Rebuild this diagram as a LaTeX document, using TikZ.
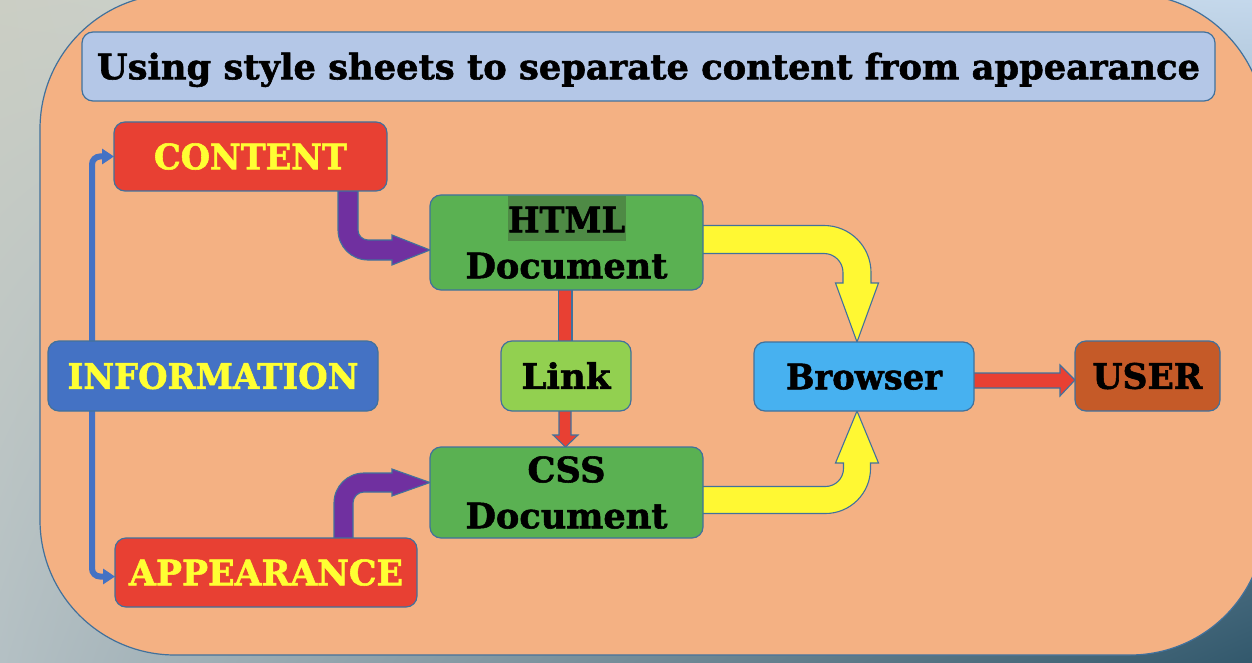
\documentclass[tikz,border=0pt]{standalone}
\usepackage{fontspec}
\setmainfont{DejaVu Serif}[BoldFeatures={FakeBold=1.6}]
\usepackage{graphicx}
\usetikzlibrary{calc,arrows.meta,shadings}
\definecolor{bordc}{HTML}{41719C}
\definecolor{orangebg}{HTML}{F4B183}
\definecolor{titlefill}{HTML}{B4C7E7}
\definecolor{redc}{HTML}{E84033}
\definecolor{yellowtxt}{HTML}{FFFF33}
\definecolor{greenc}{HTML}{5AB152}
\definecolor{hlgreen}{HTML}{4E8A45}
\definecolor{linkc}{HTML}{92D050}
\definecolor{infoc}{HTML}{4472C4}
\definecolor{browserc}{HTML}{47B1F0}
\definecolor{userc}{HTML}{C55A28}
\definecolor{purplec}{HTML}{7030A0}
\definecolor{yellowarr}{HTML}{FFF833}
\definecolor{bgUL}{RGB}{203,206,196}
\definecolor{bgUR}{RGB}{196,216,236}
\definecolor{bgLL}{RGB}{180,192,196}
\definecolor{bgLR}{RGB}{50,88,108}
\pgfdeclarelayer{bgl}
\pgfdeclarelayer{arrl}
\pgfsetlayers{bgl,arrl,main}
\newcommand{\twolines}[3]{\vbox{\baselineskip=#3\lineskiplimit=-100pt\halign{\hfil##\hfil\cr #1\cr #2\cr}}}
\begin{document}
\begin{tikzpicture}[x=1pt,y=-1pt,
  box/.style={draw=bordc, line width=1.2pt, rounded corners=11pt, inner sep=0pt, outer sep=0pt,
    font=\fontsize{35}{46}\selectfont\bfseries, text height=25.5pt, text depth=0pt},
  twobox/.style={box, text height=71.5pt, text depth=-3.5pt},
  yarrow/.style={fill=yellowarr, draw=bordc, line width=1.1pt, line join=miter},
  parrow/.style={fill=purplec, draw=bordc, line width=1.1pt, line join=miter},
  rarrow/.style={fill=redc, draw=bordc, line width=1.1pt, line join=miter},
  bluecon/.style={draw=infoc, line width=6pt, rounded corners=8pt, -{Triangle[length=12pt,width=15pt]}}]
\useasboundingbox (0,0) rectangle (1252,663);
\begin{pgfonlayer}{bgl}
\clip (0,0) rectangle (1252,663);
\shade[upper left=bgUL, upper right=bgUR, lower left=bgLL, lower right=bgLR] (0,0) rectangle (1252,663);
\draw[draw=bordc, line width=1.2pt, fill=orangebg, rounded corners=135pt] (40,-6) rectangle (1265,655);
\end{pgfonlayer}

\node[box, fill=titlefill, minimum width=1133pt, minimum height=69pt] (title) at (648.5,66.5)
  {\resizebox{1103pt}{\height}{Using style sheets to separate content from appearance}};
\node[box, fill=redc, text=yellowtxt, minimum width=273pt, minimum height=69pt] (content) at (250.5,156.5)
  {\resizebox{193pt}{\height}{CONTENT}};
\node[twobox, fill=greenc, minimum width=273pt, minimum height=95pt] (html) at (566.5,242.5)
  {\twolines{{\setlength{\fboxsep}{0pt}\colorbox{hlgreen}{\rule[-9pt]{0pt}{45pt}\hspace{0.5pt}\resizebox{117pt}{\height}{HTML}\hspace{0.5pt}}}}{\resizebox{202pt}{\height}{Document}}{46pt}};
\node[box, fill=linkc, minimum width=130pt, minimum height=70pt] (link) at (566,376)
  {\resizebox{89pt}{\height}{Link}};
\node[twobox, fill=greenc, minimum width=273pt, minimum height=91pt] (css) at (566.5,492.5)
  {\twolines{\resizebox{78pt}{\height}{CSS}}{\resizebox{202pt}{\height}{Document}}{46pt}};
\node[box, fill=infoc, text=yellowtxt, minimum width=330pt, minimum height=70pt] (info) at (213,376)
  {\resizebox{291pt}{\height}{INFORMATION}};
\node[box, fill=redc, text=yellowtxt, minimum width=302pt, minimum height=69pt] (appear) at (266,572.5)
  {\resizebox{274pt}{\height}{APPEARANCE}};
\node[box, fill=browserc, minimum width=220pt, minimum height=69pt] (browser) at (864,376.5)
  {\resizebox{156pt}{\height}{Browser}};
\node[box, fill=userc, minimum width=145pt, minimum height=70pt] (user) at (1147.5,376)
  {\resizebox{110pt}{\height}{USER}};

\coordinate (pP) at (browser.north |- html.east);
\coordinate (pQ) at (browser.south |- css.east);
\coordinate (pS) at ($(content.south east)+(-39,0)$);
\coordinate (pK) at (pS |- html.west);
\coordinate (pS2) at ($(appear.north east)+(-73.5,0)$);
\coordinate (pK2) at (pS2 |- css.west);

\begin{pgfonlayer}{arrl}
% HTML -> Browser
\draw[yarrow] ($(html.east)+(-3,-17)$) -- ($(pP)+(-40,-17)$) .. controls +(26,0) and +(0,-26) .. ($(pP)+(7,30)$)
  -- ($(pP)+(7,40.5)$) -- ($(pP)+(14.5,40.5)$) -- ($(browser.north)+(-7,0)$) -- ($(pP)+(-28.5,40.5)$)
  -- ($(pP)+(-21,40.5)$) -- ($(pP)+(-21,30)$) .. controls +(0,-10.5) and +(10.5,0) .. ($(pP)+(-40,11)$)
  -- ($(html.east)+(-3,11)$) -- cycle;
% CSS -> Browser
\draw[yarrow] ($(css.east)+(-3,21)$) -- ($(pQ)+(-38.5,21)$) .. controls +(24.8,0) and +(0,24.8) .. ($(pQ)+(6.5,-24)$)
  -- ($(pQ)+(6.5,-29.5)$) -- ($(pQ)+(14.5,-29.5)$) -- ($(browser.south)+(-7,0)$) -- ($(pQ)+(-28.5,-29.5)$)
  -- ($(pQ)+(-20.5,-29.5)$) -- ($(pQ)+(-20.5,-24)$) .. controls +(0,9.9) and +(9.9,0) .. ($(pQ)+(-38.5,-6)$)
  -- ($(css.east)+(-3,-6)$) -- cycle;
% CONTENT -> HTML
\draw[parrow] ($(pS)+(-10,-3)$) -- ($(pK)+(-10,-12.5)$) .. controls +(0,16.6) and +(-16.6,0) .. ($(pK)+(20,17.5)$)
  -- ($(pK)+(44,17.5)$) -- ($(pK)+(44,22.5)$) -- ($(html.west)+(0,7.5)$) -- ($(pK)+(44,-7.5)$)
  -- ($(pK)+(44,-2.5)$) -- ($(pK)+(20,-2.5)$) .. controls +(-5.5,0) and +(0,5.5) .. ($(pK)+(10,-12.5)$)
  -- ($(pS)+(10,-3)$) -- cycle;
% APPEARANCE -> CSS
\draw[parrow] ($(pS2)+(-9.5,3)$) -- ($(pK2)+(-9.5,10.5)$) .. controls +(0,-16.6) and +(-16.6,0) .. ($(pK2)+(20.5,-19.5)$)
  -- ($(pK2)+(48.5,-19.5)$) -- ($(pK2)+(48.5,-23.5)$) -- ($(css.west)+(0,-10)$) -- ($(pK2)+(48.5,3.5)$)
  -- ($(pK2)+(48.5,-0.5)$) -- ($(pK2)+(20.5,-0.5)$) .. controls +(-6,0) and +(0,-6) .. ($(pK2)+(9.5,10.5)$)
  -- ($(pS2)+(9.5,3)$) -- cycle;
% HTML -- Link
\draw[rarrow] ($(html.south)+(-8,-3)$) rectangle ($(link.north)+(6,3)$);
% Link -> CSS
\draw[rarrow] ($(link.south)+(-7,-3)$) -- ($(link.south)+(-7,24)$) -- ($(link.south)+(-13,24)$) -- ($(css.north)+(-1,0)$)
  -- ($(link.south)+(12,24)$) -- ($(link.south)+(5,24)$) -- ($(link.south)+(5,-3)$) -- cycle;
% Browser -> USER
\draw[rarrow] ($(browser.east)+(-3,-3.5)$) -- ($(user.west)+(-15,-3)$) -- ($(user.west)+(-15,-11)$) -- ($(user.west)+(0,4)$)
  -- ($(user.west)+(-15,20)$) -- ($(user.west)+(-15,12)$) -- ($(browser.east)+(-3,11.5)$) -- cycle;
% INFORMATION -> CONTENT / APPEARANCE
\draw[bluecon] ($(info.north west)+(44,0)$) |- (content.west);
\draw[bluecon] ($(info.south west)+(44,0)$) |- ($(appear.west)+(0,4)$);
\end{pgfonlayer}
\end{tikzpicture}
\end{document}
